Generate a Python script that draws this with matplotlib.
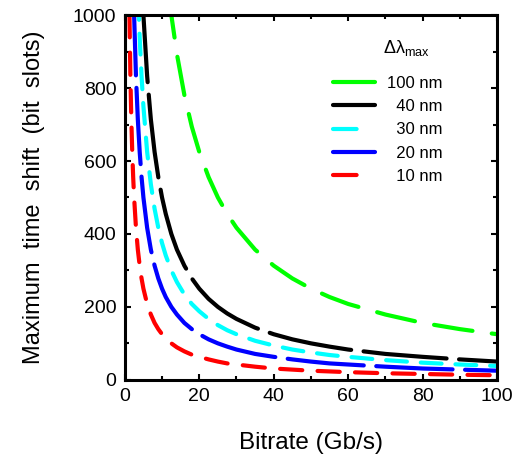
import numpy as np
import matplotlib
matplotlib.use("Agg")
import matplotlib.pyplot as plt
from matplotlib.lines import Line2D

plt.rcParams['font.family'] = ['Liberation Sans', 'DejaVu Sans']
plt.rcParams['mathtext.fontset'] = 'custom'
plt.rcParams['mathtext.rm'] = 'Liberation Sans'
plt.rcParams['lines.scale_dashes'] = False

# bitrate samples (Gb/s) and time shift (bit slots)
bitrate = [1.25, 1.5, 1.75, 2, 2.25, 2.5, 3, 3.5, 4, 4.5, 5, 6, 7, 8, 9, 10, 11,
           12.5, 14, 16, 18, 20, 22.5, 25, 27.5, 30, 35, 40, 45, 50, 55, 60, 70,
           80, 90, 100]
shift_100nm = [10000, 8333, 7143, 6250, 5556, 5000, 4167, 3571, 3125, 2778, 2500,
               2083, 1786, 1563, 1389, 1250, 1136, 1000, 893, 781, 694, 625, 556,
               500, 455, 417, 357, 313, 278, 250, 227, 208, 179, 156, 139, 125]
shift_40nm = [4000, 3333, 2857, 2500, 2222, 2000, 1667, 1429, 1250, 1111, 1000,
              833, 714, 625, 556, 500, 455, 400, 357, 313, 278, 250, 222, 200,
              182, 167, 143, 125, 111, 100, 91, 83, 71, 63, 56, 50]
shift_30nm = [3000, 2500, 2143, 1875, 1667, 1500, 1250, 1071, 938, 833, 750,
              625, 536, 469, 417, 375, 341, 300, 268, 234, 208, 188, 167, 150,
              136, 125, 107, 94, 83, 75, 68, 63, 54, 47, 42, 38]
shift_20nm = [2000, 1667, 1429, 1250, 1111, 1000, 833, 714, 625, 556, 500,
              417, 357, 313, 278, 250, 227, 200, 179, 156, 139, 125, 111, 100,
              91, 83, 71, 63, 56, 50, 45, 42, 36, 31, 28, 25]
shift_10nm = [1000, 833, 714, 625, 556, 500, 417, 357, 313, 278, 250,
              208, 179, 156, 139, 125, 114, 100, 89, 78, 69, 63, 56, 50,
              45, 42, 36, 31, 28, 25, 23, 21, 18, 16, 14, 12.5]

labels = ['100 nm', '  40 nm', '  30 nm', '  20 nm', '  10 nm']
colors = ['#00ff00', 'black', 'cyan', 'blue', 'red']
dashes = [(0, (28, 14)), (0, (60, 9)), (0, (15, 10)), (0, (55, 9)), (0, (16, 11))]
short_handle = [False, False, True, False, True]

fig = plt.figure(figsize=(5.2, 4.73), dpi=100)
ax = fig.add_axes([0.240, 0.197, 0.716, 0.771])

series = [shift_100nm, shift_40nm, shift_30nm, shift_20nm, shift_10nm]
handles = []
for y, lab, c, d, sh in zip(series, labels, colors, dashes, short_handle):
    ax.plot(bitrate, y, color=c, lw=3.0, linestyle=d,
            dash_capstyle='round', solid_capstyle='round')
    hs = (0, (17, 40)) if sh else '-'
    handles.append(Line2D([], [], color=c, lw=3.0, linestyle=hs,
                          dash_capstyle='round', solid_capstyle='round'))

ax.set_xlim(0, 100)
ax.set_ylim(0, 1000)
ax.set_xticks(np.arange(0, 101, 20))
ax.set_xticks(np.arange(0, 101, 10), minor=True)
ax.set_yticks(np.arange(0, 1001, 200))
ax.set_yticks(np.arange(0, 1001, 100), minor=True)
ax.tick_params(which='both', direction='in', top=True, right=True,
               width=1.5, labelsize=14, pad=6)
ax.tick_params(which='major', length=4)
ax.tick_params(which='minor', length=3)
for s in ax.spines.values():
    s.set_linewidth(2.2)

ax.set_xlabel('Bitrate (Gb/s)', fontsize=17.5, labelpad=19)
ax.set_ylabel('Maximum  time  shift  (bit  slots)', fontsize=17, labelpad=20)

ax.legend(handles, labels, loc='upper left', bbox_to_anchor=(0.559, 0.834),
          frameon=False, fontsize=12, handlelength=2.5, labelspacing=0.5,
          handletextpad=0.75, borderpad=0, borderaxespad=0)
ax.text(0.694, 0.897, 'Δλ$_{\\mathrm{max}}$', transform=ax.transAxes,
        fontsize=13, ha='left', va='baseline')

fig.savefig('out.png', dpi=100)
